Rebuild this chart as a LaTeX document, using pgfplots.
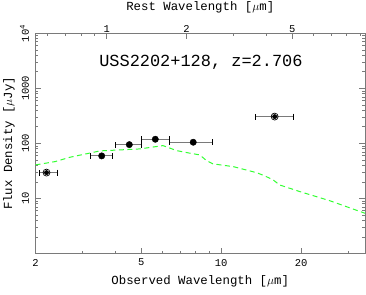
\documentclass[border=0pt]{standalone}
\usepackage{pgfplots}
\pgfplotsset{compat=1.18}
\usepackage{fontspec}
\setmainfont{Liberation Mono}
\definecolor{axgray}{HTML}{7A7A7A}
\definecolor{sedgreen}{HTML}{33FF33}
\begin{document}
\begin{tikzpicture}
\begin{axis}[name=main,
  scale only axis, width=329.5bp, height=220.2bp,
  xmode=log, ymode=log,
  xmin=2, xmax=34.8, ymin=1, ymax=10000,
  axis line style={axgray, line width=0.9pt},
  every tick/.style={axgray, line width=0.7pt},
  tick align=inside,
  major tick length=6bp, minor tick length=3bp,
  xtick={2,5,10,20}, xticklabels={2,5,10,20},
  minor xtick={3,4,6,7,8,9,30},
  xtick pos=bottom,
  ytick={10,100,1000,10000}, yticklabels={10,100,1000,10\textsuperscript{4}},
  minor ytick={2,3,4,5,6,7,8,9,20,30,40,50,60,70,80,90,200,300,400,500,600,700,800,900,2000,3000,4000,5000,6000,7000,8000,9000},
  ytick pos=both,
  /pgf/number format/assume math mode=true,
  tick label style={font=\fontsize{10.5}{10}\selectfont},
  yticklabel style={rotate=90, anchor=south, yshift=3bp},
  xticklabel style={yshift=-2bp},
  xlabel={Observed Wavelength [$\mu$m]},
  ylabel={Flux Density [$\mu$Jy]},
  label style={font=\fontsize{12.4}{12}\selectfont},
  xlabel style={at={(axis description cs:0.5,-0.128)}, anchor=center},
  ylabel style={at={(axis description cs:-0.0804,0.5)}, anchor=center},
  clip=false,
]
\addplot[sedgreen, line width=1pt, dash pattern=on 5bp off 3.5bp] coordinates {
(2.00,40.7) (2.37,46.7) (2.70,56.1) (3.50,73.1) (4.94,79.4) (6.04,91.2)
(6.80,74.0) (7.63,66.4) (8.31,61.8) (8.81,48.6) (9.33,42.4) (11.1,37.9)
(13.6,29.4) (14.6,25.7) (15.7,21.7) (16.6,17.6) (19.8,13.3) (25.6,9.12) (34.8,5.38)
};
\addplot[only marks, mark=none, draw=none,
  error bars/.cd, x dir=plus, x explicit,
  error bar style={axgray, line width=0.9pt},
  error mark options={rotate=90, mark size=3bp, black, line width=0.6pt}]
  coordinates {
  (3.55,59.3) +- (0.35,0)
  (4.51,95)   +- (0.49,0)
  (5.65,119)  +- (0.72,0)
  (7.85,105)  +- (1.45,0)
  (2.2,29.5)  +- (0.21,0)
  (15.9,307)  +- (2.8,0)
};
\addplot[only marks, mark=none, draw=none,
  error bars/.cd, x dir=minus, x explicit,
  error bar style={axgray, line width=0.9pt},
  error mark options={rotate=90, mark size=3bp, black, line width=0.6pt}]
  coordinates {
  (3.55,59.3) +- (0.34,0)
  (4.51,95)   +- (0.52,0)
  (5.65,119)  +- (0.65,0)
  (7.85,105)  +- (1.45,0)
  (2.2,29.5)  +- (0.13,0)
  (15.9,307)  +- (2.4,0)
};
\addplot[only marks, mark=o, mark size=3.5bp, black, mark options={line width=0.7pt}]
  coordinates {(2.2,29.5) (15.9,307)};
\addplot[only marks, mark=*, mark size=3.2bp, black]
  coordinates {(3.55,59.3) (4.51,95) (5.65,119) (7.85,105)};
\node[font=\fontsize{17}{17}\selectfont, anchor=center] at (axis description cs:0.502,0.87) {USS2202+128, z=2.706};
\end{axis}
\begin{axis}[
  scale only axis, width=329.5bp, height=220.2bp,
  xmode=log, ymode=log,
  xmin=0.53967, xmax=9.390, ymin=1, ymax=10000,
  axis x line*=top,
  axis y line=none,
  axis line style={draw=none},
  every tick/.style={axgray, line width=0.7pt},
  tick align=inside,
  major tick length=6bp, minor tick length=3bp,
  xtick={1,2,5}, xticklabels={1,2,5},
  minor xtick={0.6,0.7,0.8,0.9,3,4,6,7,8,9},
  /pgf/number format/assume math mode=true,
  tick label style={font=\fontsize{10.5}{10}\selectfont},
  xticklabel style={yshift=-3bp},
  xlabel={Rest Wavelength [$\mu$m]},
  label style={font=\fontsize{12.4}{12}\selectfont},
  xlabel style={at={(axis description cs:0.5,1.119)}, anchor=center},
]
\end{axis}
\pgfresetboundingbox
\path (main.south west) ++(-35.5bp,-41.5bp) rectangle ++(366bp,295bp);
\end{tikzpicture}
\end{document}
